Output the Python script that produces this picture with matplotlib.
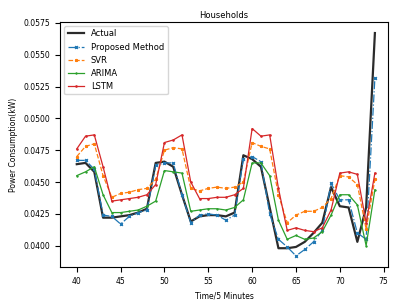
import numpy as np
from matplotlib import pyplot as plt

# datos
t = np.arange(40, 75)
actual = [0.0464, 0.0465, 0.0458, 0.0422, 0.0422, 0.0423, 0.0424, 0.0426, 0.0429,
          0.0465, 0.0466, 0.0462, 0.0440, 0.0419, 0.0423, 0.0424, 0.0424, 0.0423, 0.0426,
          0.0471, 0.0468, 0.0462, 0.0430, 0.0398, 0.0398, 0.0399, 0.0403, 0.0410, 0.0418,
          0.0446, 0.0431, 0.0430, 0.0403, 0.0430, 0.0567]
proposed = [0.0467, 0.0467, 0.0460, 0.0424, 0.0423, 0.0417, 0.0423, 0.0426, 0.0428,
            0.0463, 0.0465, 0.0465, 0.0440, 0.0418, 0.0424, 0.0425, 0.0424, 0.0420, 0.0424,
            0.0468, 0.0470, 0.0466, 0.0425, 0.0405, 0.0399, 0.0392, 0.0397, 0.0403, 0.0412,
            0.0449, 0.0436, 0.0436, 0.0410, 0.0405, 0.0532]
svr = [0.0470, 0.0478, 0.0480, 0.0455, 0.0438, 0.0441, 0.0442, 0.0444, 0.0445,
       0.0452, 0.0475, 0.0477, 0.0476, 0.0445, 0.0443, 0.0445, 0.0446, 0.0445, 0.0446,
       0.0450, 0.0481, 0.0478, 0.0476, 0.0440, 0.0418, 0.0424, 0.0427, 0.0427, 0.0430,
       0.0437, 0.0455, 0.0454, 0.0448, 0.0413, 0.0452]
arima = [0.0455, 0.0458, 0.0462, 0.0440, 0.0426, 0.0426, 0.0427, 0.0428, 0.0431,
         0.0435, 0.0459, 0.0458, 0.0457, 0.0427, 0.0428, 0.0429, 0.0429, 0.0428, 0.0430,
         0.0436, 0.0465, 0.0465, 0.0455, 0.0420, 0.0405, 0.0408, 0.0405, 0.0406, 0.0411,
         0.0424, 0.0440, 0.0440, 0.0432, 0.0400, 0.0444]
lstm = [0.0476, 0.0486, 0.0487, 0.0462, 0.0435, 0.0436, 0.0437, 0.0438, 0.0440,
        0.0448, 0.0481, 0.0483, 0.0487, 0.0450, 0.0437, 0.0437, 0.0438, 0.0438, 0.0440,
        0.0445, 0.0492, 0.0486, 0.0487, 0.0445, 0.0412, 0.0414, 0.0412, 0.0411, 0.0414,
        0.0428, 0.0457, 0.0458, 0.0456, 0.0418, 0.0457]

plt.rcParams['font.size'] = 5.5

fig = plt.figure(figsize=(3.98, 3.0), dpi=100)
ax = fig.add_axes([0.151, 0.11, 0.824, 0.817])

ax.plot(t, actual, color='#2b2b2b', lw=1.6, label='Actual')
ax.plot(t, proposed, color='tab:blue', lw=0.9, ls='-.', marker='x', ms=2, label='Proposed Method')
ax.plot(t, svr, color='tab:orange', lw=0.9, ls='--', marker='*', ms=2, label='SVR')
ax.plot(t, arima, color='tab:green', lw=0.9, ls='-', marker='+', ms=2, label='ARIMA')
ax.plot(t, lstm, color='tab:red', lw=0.9, ls='-', marker='.', ms=1.8, label='LSTM')

ax.set_xlim(38.1, 75.5)
ax.set_xticks([40, 45, 50, 55, 60, 65, 70, 75])
ax.set_yticks([0.0400, 0.0425, 0.0450, 0.0475, 0.0500, 0.0525, 0.0550, 0.0575])
ax.set_title('Households', fontsize=6, pad=3)
ax.set_xlabel('Time/5 Minutes')
ax.set_ylabel('Power Consumption(kW)')
ax.legend(loc='upper left', fontsize=6)

plt.savefig('out.png', dpi=100)
